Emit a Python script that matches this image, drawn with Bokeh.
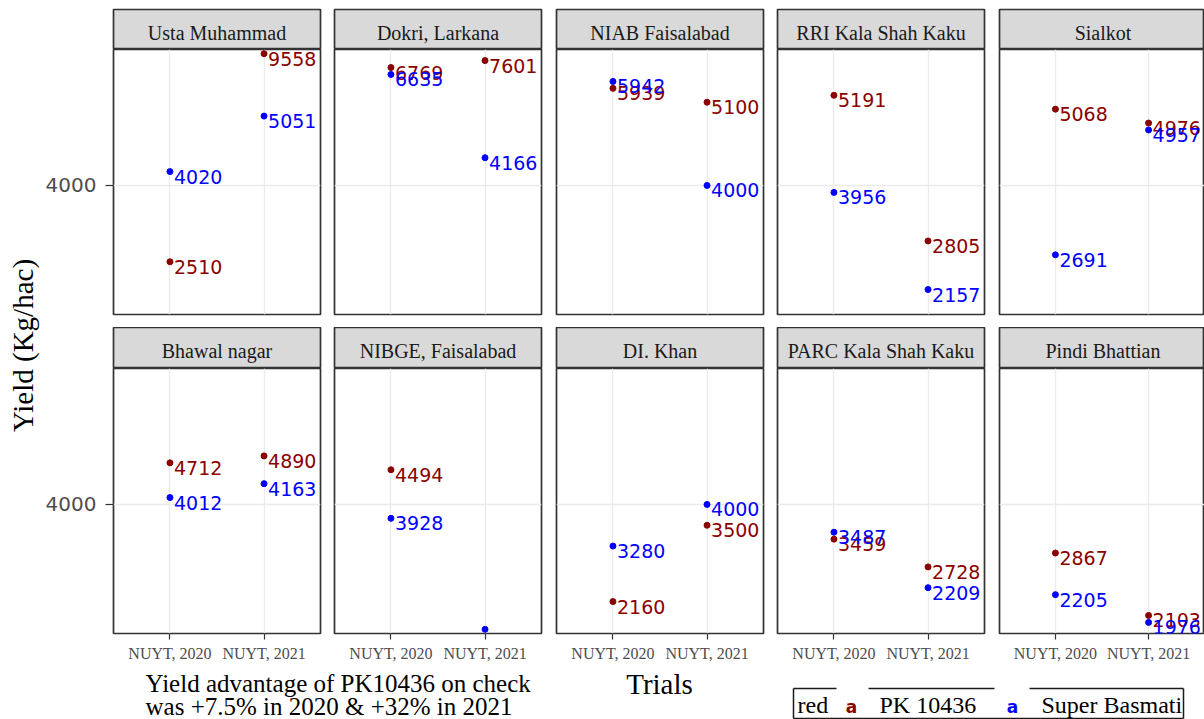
import math
from bokeh.plotting import figure
from bokeh.layouts import row, column
from bokeh.models import (ColumnDataSource, Range1d, FactorRange, FixedTicker, LinearAxis,
                          CategoricalAxis, CategoricalTicker, Grid)
from bokeh.core.properties import value
from bokeh.embed import file_html
from bokeh.resources import INLINE

# ---------------- data ----------------
stations = ["Usta Muhammad", "Dokri, Larkana", "NIAB Faisalabad", "RRI Kala Shah Kaku", "Sialkot",
            "Bhawal nagar", "NIBGE, Faisalabad", "DI. Khan", "PARC Kala Shah Kaku", "Pindi Bhattian"]
trials = ["NUYT, 2020", "NUYT, 2021"]
pk_2020 = ["2510", "6769", "5939", "5191", "5068", "4712", "4494", "2160", "3459", "2867"]
pk_2021 = ["9558", "7601", "5100", "2805", "4976", "4890", None, "3500", "2728", "2103"]
sb_2020 = ["4020", "6635", "5942", "3956", "2691", "4012", "3928", "3280", "3487", "2205"]
sb_2021 = ["5051", "4166", "4000", "2157", "4957", "4163", "", "4000", "2209", "1976"]
variety_names = ["PK 10436", "Super Basmati"]
variety_colors = ["#8B0000", "#0000FF"]
legend_title = "red"
y_break = "4000"
x_title = "Trials"
y_title = "Yield (Kg/hac)"
note_lines = ["Yield advantage of PK10436 on check", "was +7.5% in 2020 & +32% in 2021"]

series = [(pk_2020, pk_2021), (sb_2020, sb_2021)]

# discrete y scale: the yields are text values, levels sorted as in the original
all_vals = [v for lst in (pk_2020, pk_2021, sb_2020, sb_2021) for v in lst if v is not None]
levels = sorted(set(all_vals))


def level(v):
    return levels.index(v) + 1


SERIF = "Liberation Serif"
SANS = "DejaVu Sans"
BORDER = "#333333"
GRID = "#EBEBEB"

col_left = [72, 7, 7, 7, 7]
col_frame = [207, 207, 207, 207, 205]
col_right = [7, 8, 7, 8, 0]
strip_h = [40, 41]
strip_top = [9, 0]
panel_h = 265
panel_bottom = [13, 35]


def no_grid(f):
    f.center = [m for m in f.center if not isinstance(m, Grid)]
    return f


def base_fig(c, fh, top, bottom, xr, yr, bg="white", outline=BORDER):
    f = figure(frame_width=col_frame[c], frame_height=fh,
               min_border_left=col_left[c], min_border_right=col_right[c],
               min_border_top=top, min_border_bottom=bottom,
               x_range=xr, y_range=yr, x_axis_location=None, y_axis_location=None,
               toolbar_location=None, output_backend="svg", title=None,
               background_fill_color=bg, border_fill_color="white",
               outline_line_color=outline, outline_line_width=1.7)
    return no_grid(f)


def make_strip(name, c, r):
    s = base_fig(c, strip_h[r], strip_top[r], 0, Range1d(0, col_frame[c]),
                 Range1d(strip_h[r], 0), bg="#D9D9D9")
    s.text(x=[207 / 2], y=[23.5], text=[name], text_font=value(SERIF),
           text_font_size="20px", text_color="#1A1A1A", text_align="center",
           text_baseline="middle")
    return s


def make_panel(i, c, r):
    p = base_fig(c, panel_h, 0, panel_bottom[r],
                 FactorRange(factors=trials, range_padding=0.1, range_padding_units="absolute"),
                 Range1d(0.4, len(levels) + 0.6))
    p.add_layout(Grid(dimension=0, ticker=CategoricalTicker(), grid_line_color=GRID,
                      grid_line_width=1.3))
    p.add_layout(Grid(dimension=1, ticker=FixedTicker(ticks=[level(y_break)]),
                      grid_line_color=GRID, grid_line_width=1.3))
    xs, ys, labs, cols = [], [], [], []
    for (s20, s21), colr in zip(series, variety_colors):
        for t, lst in zip(trials, (s20, s21)):
            v = lst[i]
            if v is None:
                continue
            xs.append(t)
            ys.append(level(v))
            labs.append(v)
            cols.append(colr)
    src = ColumnDataSource(dict(trial=xs, lev=ys, lab=labs, col=cols))
    p.scatter(x="trial", y="lev", source=src, size=6, fill_color="col", line_color="col")
    p.text(x="trial", y="lev", text="lab", source=src, text_color="col",
           text_font=value(SANS), text_font_size="19px", text_align="left",
           text_baseline="middle", x_offset=4, y_offset=5)
    if c == 0:
        lv = level(y_break)
        ax = LinearAxis(ticker=FixedTicker(ticks=[lv], minor_ticks=[]),
                        major_label_overrides={lv: y_break},
                        axis_line_color=None, major_tick_line_color=BORDER,
                        major_tick_line_width=1.2, major_tick_in=0, major_tick_out=8,
                        minor_tick_line_color=None, major_label_standoff=9,
                        major_label_text_font=SANS, major_label_text_font_size="20px",
                        major_label_text_color="#4D4D4D")
        p.add_layout(ax, "left")
    if r == 1:
        xa = CategoricalAxis(axis_line_color=None, major_tick_line_color=BORDER,
                             major_tick_line_width=1.2, major_tick_in=0, major_tick_out=6,
                             major_label_standoff=5, major_label_text_font=SERIF,
                             major_label_text_font_size="16px",
                             major_label_text_color="#4D4D4D")
        p.add_layout(xa, "below")
    return p


cols_layout = []
for c in range(5):
    cols_layout.append(column(make_strip(stations[c], c, 0), make_panel(c, c, 0),
                              make_strip(stations[5 + c], c, 1), make_panel(5 + c, c, 1)))

# left strip with the y title
left_fig = no_grid(figure(frame_width=41, frame_height=668, min_border_left=0, min_border_right=0,
                          min_border_top=0, min_border_bottom=0, x_range=Range1d(0, 41),
                          y_range=Range1d(0, 668), x_axis_location=None, y_axis_location=None,
                          toolbar_location=None, output_backend="svg", title=None,
                          outline_line_color=None))
left_fig.text(x=[22], y=[323], text=[y_title], angle=math.pi / 2, text_font=value(SERIF),
              text_font_size="29px", text_color="black", text_align="center",
              text_baseline="middle")

# bottom area: x title, note, legend
bot = no_grid(figure(frame_width=1204, frame_height=51, min_border_left=0, min_border_right=0,
                     min_border_top=0, min_border_bottom=0, x_range=Range1d(0, 1204),
                     y_range=Range1d(51, 0), x_axis_location=None, y_axis_location=None,
                     toolbar_location=None, output_backend="svg", title=None,
                     outline_line_color=None))
bot.text(x=[659], y=[15], text=[x_title], text_font=value(SERIF), text_font_size="29px",
         text_color="black", text_align="center", text_baseline="middle")
bot.text(x=[145, 145], y=[15, 38], text=note_lines, text_font=value(SERIF),
         text_font_size="25px", text_color="black", text_align="left", text_baseline="middle")
# legend frame
bot.segment(x0=[793, 1183, 793, 793, 868, 1029], y0=[20, 20, 50, 20, 20, 20],
            x1=[793, 1183, 1183, 836, 994, 1183], y1=[50, 50, 50, 20, 20, 20],
            line_color="#1A1A1A", line_width=1.5)
bot.text(x=[797], y=[36], text=[legend_title], text_font=value(SERIF), text_font_size="24px",
         text_color="black", text_align="left", text_baseline="middle")
bot.text(x=[851, 1012], y=[38, 38], text=["a", "a"], text_color=variety_colors,
         text_font=value(SANS), text_font_style="bold", text_font_size="17px",
         text_align="center", text_baseline="middle")
bot.text(x=[879, 1041], y=[36, 36], text=variety_names, text_font=value(SERIF),
         text_font_size="24px", text_color="black", text_align="left", text_baseline="middle")

layout = column(row(left_fig, *cols_layout), bot)

open("out.html", "w").write(file_html(layout, INLINE))
